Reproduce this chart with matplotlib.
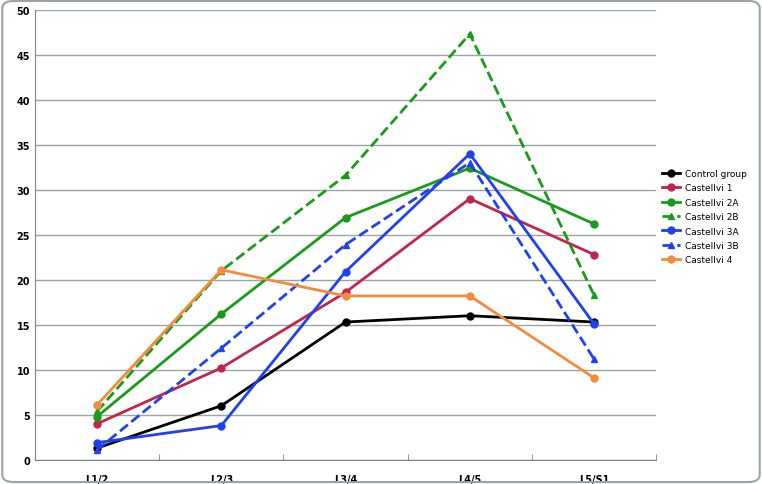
import matplotlib
matplotlib.use("Agg")
import matplotlib.pyplot as plt
from matplotlib.patches import FancyBboxPatch

categories = ["L1/2", "L2/3", "L3/4", "L4/5", "L5/S1"]
control = [1.3, 6.0, 15.3, 16.0, 15.3]
castellvi_1 = [4.0, 10.2, 18.6, 29.0, 22.8]
castellvi_2a = [4.8, 16.2, 26.9, 32.4, 26.2]
castellvi_2b = [5.4, 21.0, 31.6, 47.3, 18.3]
castellvi_3a = [1.9, 3.8, 20.9, 34.0, 15.1]
castellvi_3b = [1.1, 12.4, 23.9, 33.0, 11.2]
castellvi_4 = [6.1, 21.1, 18.2, 18.2, 9.1]
yticks = list(range(0, 55, 5))

fig = plt.figure(figsize=(7.62, 4.85), dpi=100)
fig.patches.append(FancyBboxPatch((0.003, 0.004), 0.994, 0.992, boxstyle="round,pad=0,rounding_size=0.015",
                                  transform=fig.transFigure, fill=False, ec="#9aa4a8", lw=1.5))
ax = fig.add_axes([0.046, 0.05, 0.815, 0.928])
x = range(len(categories))
series = [
    ("Control group", control, "black", "-", "o"),
    ("Castellvi 1", castellvi_1, "#c0254a", "-", "o"),
    ("Castellvi 2A", castellvi_2a, "#1a9a1a", "-", "o"),
    ("Castellvi 2B", castellvi_2b, "#1a9a1a", "--", "^"),
    ("Castellvi 3A", castellvi_3a, "#2040f0", "-", "o"),
    ("Castellvi 3B", castellvi_3b, "#2040f0", "--", "^"),
    ("Castellvi 4", castellvi_4, "#f58a3c", "-", "o"),
]
for name, vals, c, ls, m in series:
    ax.plot(x, vals, color=c, ls=ls, marker=m, ms=5, lw=2, label=name)
ax.set_xlim(-0.5, 4.5)
ax.set_ylim(0, 50)
ax.set_yticks(yticks)
ax.set_xticks(list(x))
ax.set_xticklabels(categories, fontweight="bold")
for lbl in ax.get_yticklabels():
    lbl.set_fontweight("bold")
ax.set_xticks([i + 0.5 for i in range(-1, 5)], minor=True)
ax.grid(True, axis="y", color="#9aa4a8", lw=1)
ax.tick_params(axis="x", which="major", length=0, labelsize=7, pad=10)
ax.tick_params(axis="x", which="minor", length=4, direction="in", color="#7a8488")
ax.tick_params(axis="y", length=0, labelsize=7)
for s in ["top", "right"]:
    ax.spines[s].set_visible(False)
for s in ["left", "bottom"]:
    ax.spines[s].set_color("#7a8488")
ax.set_axisbelow(True)
ax.legend(loc="center left", bbox_to_anchor=(1.0, 0.54), frameon=False, fontsize=6.5,
          handlelength=2.0, borderaxespad=0.3, handletextpad=0.5, labelspacing=0.6)
fig.savefig("out.png", dpi=100)
